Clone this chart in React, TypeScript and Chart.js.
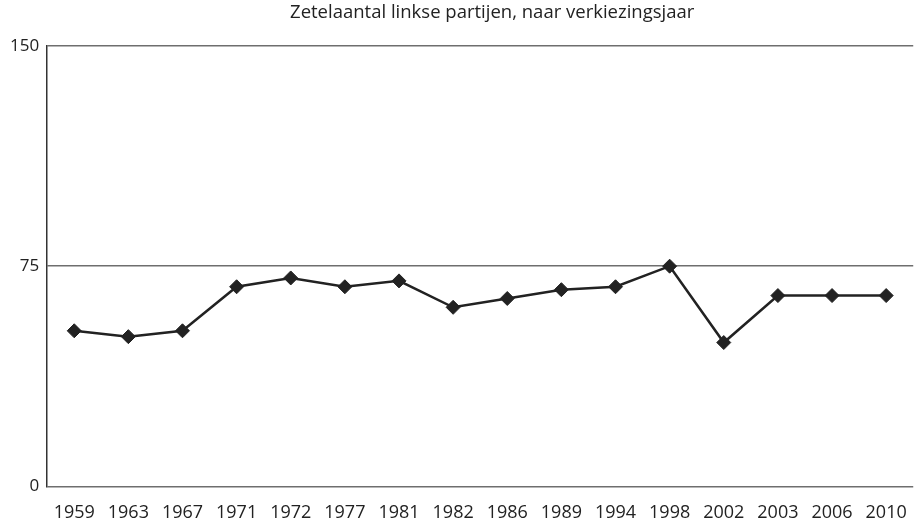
import React, { useEffect, useRef } from "react";
import { Chart, registerables } from "chart.js";

Chart.register(...registerables);

const years = ["1959", "1963", "1967", "1971", "1972", "1977", "1981", "1982", "1986", "1989", "1994", "1998", "2002", "2003", "2006", "2010"];
const seats = [53, 51, 53, 68, 71, 68, 70, 61, 64, 67, 68, 75, 49, 65, 65, 65];
const yTicks = [0, 75, 150];
const title = "Zetelaantal linkse partijen, naar verkiezingsjaar";

const FONT = "'Open Sans', sans-serif";

const titlePlugin = {
  id: "customTitle",
  afterDraw(chart: any) {
    const { ctx, chartArea } = chart;
    ctx.save();
    ctx.font = `18.5px ${FONT}`;
    ctx.fillStyle = "#222222";
    ctx.textAlign = "center";
    ctx.textBaseline = "middle";
    ctx.fillText(title, (chartArea.left + chartArea.right) / 2 + 12, 13);
    ctx.restore();
  },
};

export default function App() {
  const ref = useRef<HTMLCanvasElement | null>(null);
  useEffect(() => {
    document.body.style.margin = "0";
    const canvas = ref.current;
    if (!canvas) return;
    const chart = new Chart(canvas, {
      type: "line",
      data: {
        labels: years,
        datasets: [
          {
            data: seats,
            borderColor: "#222222",
            backgroundColor: "#222222",
            borderWidth: 2.5,
            pointStyle: "rectRot",
            pointRadius: 7,
            pointBorderWidth: 1,
            pointBackgroundColor: "#222222",
            pointBorderColor: "#222222",
            tension: 0,
          },
        ],
      },
      options: {
        animation: false,
        responsive: false,
        layout: { padding: { left: 2, right: 0, top: 46, bottom: 0 } },
        plugins: {
          legend: { display: false },
          tooltip: { enabled: false },
          title: { display: false },
        },
        scales: {
          x: {
            offset: true,
            grid: { display: false, drawTicks: false },
            border: { display: false },
            ticks: {
              color: "#222222",
              font: { family: FONT, size: 18 },
              padding: 16,
              maxRotation: 0,
              autoSkip: false,
            },
          },
          y: {
            min: 0,
            max: 150,
            afterBuildTicks: (axis: any) => {
              axis.ticks = yTicks.map((v) => ({ value: v }));
            },
            grid: { color: "#6e6e6e", lineWidth: 1.5, drawTicks: false },
            border: { display: true, color: "#333333", width: 1.5 },
            ticks: {
              color: "#222222",
              font: { family: FONT, size: 17 },
              padding: 8,
            },
          },
        },
      },
      plugins: [titlePlugin],
    });
    return () => chart.destroy();
  }, []);
  return (
    <div style={{ position: "relative", width: 914, height: 520, overflow: "hidden" }}>
      <canvas ref={ref} width={923} height={540} style={{ display: "block" }} />
    </div>
  );
}
